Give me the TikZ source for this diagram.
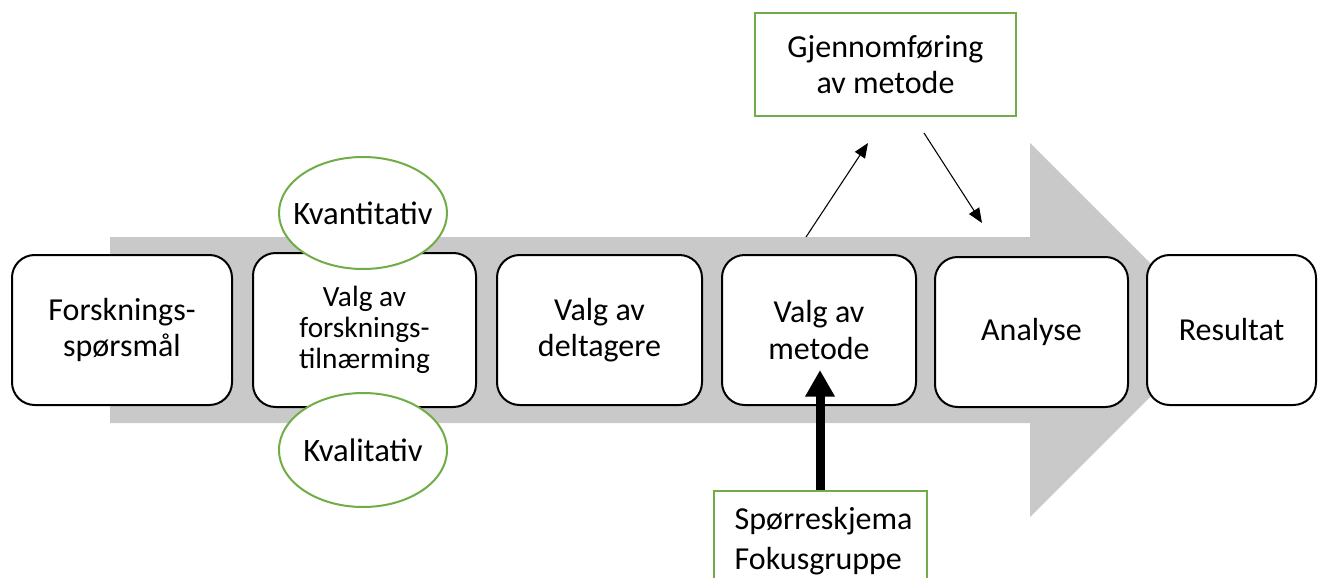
\documentclass[tikz,border=0pt]{standalone}
\usepackage{fontspec}
\setmainfont{Carlito}
\usetikzlibrary{shapes.geometric,arrows.meta}
\definecolor{arrowgray}{HTML}{C9C9C9}
\definecolor{officegreen}{HTML}{70AD47}
\tikzset{
  stepbox/.style={draw=black, line width=1.5pt, fill=white, rounded corners=17pt,
    align=center, font=\fontsize{24}{27.5}\selectfont, inner sep=2pt},
  greenell/.style={ellipse, draw=officegreen, line width=1.5pt, fill=white,
    inner sep=0pt, font=\fontsize{24.5}{28}\selectfont},
  greenbox/.style={draw=officegreen, line width=1.5pt, fill=white,
    font=\fontsize{24}{30}\selectfont},
  thinarrow/.style={line width=0.8pt, -{Triangle[length=11pt,width=9pt]}},
  thickarrow/.style={line width=6.75pt, -{Triangle[length=20pt,width=21pt]}}
}
\begin{document}
\begin{tikzpicture}[x=0.75pt,y=-0.75pt]
\clip (0,0) rectangle (1322,578);
\fill[white] (0,0) rectangle (1322,578);
% big gray arrow
\fill[arrowgray] (110,237) -- (1030,237) -- (1030,143) -- (1217,330)
  -- (1030,517) -- (1030,423) -- (110,423) -- cycle;
% step boxes
\node[stepbox, minimum width=220*0.75pt, minimum height=150*0.75pt,
  font=\fontsize{24}{26.5}\selectfont] (b1) at (122,330) {Forsknings-\\spørsmål};
\node[stepbox, minimum width=223*0.75pt, minimum height=154*0.75pt,
  font=\fontsize{22}{23.5}\selectfont] (b2) at (364.5,330) {Valg av\\forsknings-\\tilnærming};
\node[stepbox, minimum width=205*0.75pt, minimum height=150*0.75pt] (b3) at (599.5,330) {Valg av\\deltagere};
\node[stepbox, minimum width=194*0.75pt, minimum height=150*0.75pt] (b4) at (819,330) {Valg av\\metode};
\node[stepbox, minimum width=193*0.75pt, minimum height=150*0.75pt] (b5) at (1031.5,332) {Analyse};
\node[stepbox, minimum width=169*0.75pt, minimum height=150*0.75pt] (b6) at (1231.5,330) {Resultat};
% ellipses
\node[greenell, minimum width=168*0.75pt, minimum height=112*0.75pt] (kvant) at (363,213) {\makebox[0pt][c]{Kvantitativ}};
\node[greenell, minimum width=168*0.75pt, minimum height=114*0.75pt] (kval) at (363,450) {\makebox[0pt][c]{Kvalitativ}};
% top box
\node[greenbox, align=center, minimum width=261*0.75pt, minimum height=103*0.75pt,
  font=\fontsize{24}{27}\selectfont] (gj) at (885.5,64.5) {Gjennomføring\\av metode};
% bottom box
\node[greenbox, anchor=north west, align=left, text width=137pt, inner xsep=11.5pt,
  inner ysep=12pt] (sp) at (713,490)
  {\hspace*{4pt}\mbox{Spørreskjema}\\\hspace*{4pt}\mbox{Fokusgruppe}};
% arrows
\coordinate (u1) at (806,237);
\coordinate (u2) at (868,143);
\coordinate (d1) at (924,133);
\coordinate (d2) at (982,223);
\coordinate (t) at (820,370);
\draw[thinarrow] (u1) -- (u2);
\draw[thinarrow] (d1) -- (d2);
\draw[thickarrow] (sp.north -| t) -- (t);
\end{tikzpicture}
\end{document}
